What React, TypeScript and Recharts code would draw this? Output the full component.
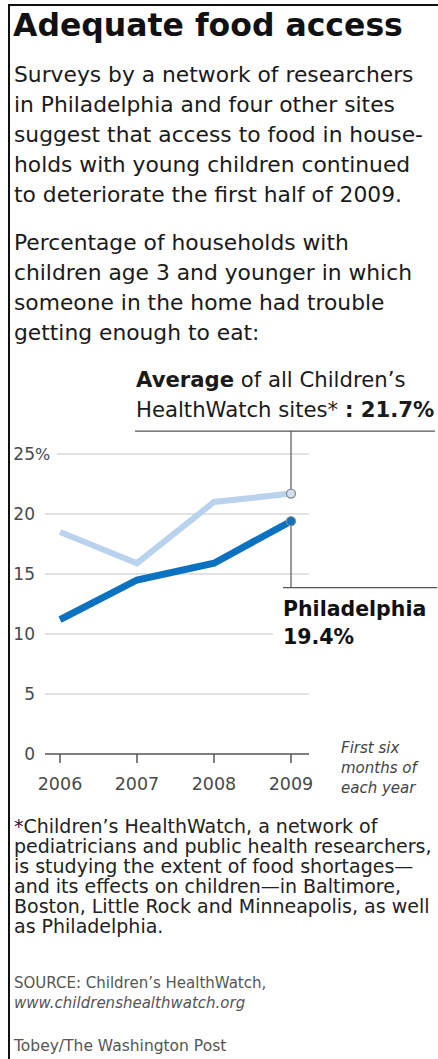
import React from 'react';
import { LineChart, Line, XAxis, YAxis, ReferenceLine } from 'recharts';

// ---- data ----
const years = [2006, 2007, 2008, 2009];
const averageValues = [18.5, 15.9, 21.0, 21.7];
const philadelphiaValues = [11.2, 14.5, 15.9, 19.4];
const yTicks = [0, 5, 10, 15, 20, 25];
const gridValues = [5, 10, 15, 20, 25];

const titleText = 'Adequate food access';
const introLines = [
  'Surveys by a network of researchers',
  'in Philadelphia and four other sites',
  'suggest that access to food in house-',
  'holds with young children continued',
  'to deteriorate the first half of 2009.',
];
const questionLines = [
  'Percentage of households with',
  'children age 3 and younger in which',
  'someone in the home had trouble',
  'getting enough to eat:',
];
const noteLines = [
  '*Children\u2019s HealthWatch, a network of',
  'pediatricians and public health researchers,',
  'is studying the extent of food shortages\u2014',
  'and its effects on children\u2014in Baltimore,',
  'Boston, Little Rock and Minneapolis, as well',
  'as Philadelphia.',
];
const periodLines = ['First six', 'months of', 'each year'];
const sourceLine = 'SOURCE: Children\u2019s HealthWatch,';
const urlLine = 'www.childrenshealthwatch.org';
const creditLine = 'Tobey/The Washington Post';

const data = years.map((year, i) => ({
  year,
  average: averageValues[i],
  philadelphia: philadelphiaValues[i],
}));

const last = years.length - 1;
const avgLast = averageValues[last];
const phlLast = philadelphiaValues[last];

// colours
const LIGHT = '#b9d2ee';
const LIGHT_DOT = '#cfe0f4';
const DARK = '#0b72c1';
const LEADER = '#555555';
const GRID = '#d9d9d9';
const SANS = '"DejaVu Sans", "Noto Sans", sans-serif';

type TL = {
  x: number;
  y: number; // centre of line
  size: number;
  lh?: number;
  weight?: number | string;
  italic?: boolean;
  color?: string;
  font?: string;
  spacing?: number;
  children: React.ReactNode;
};

const T = ({ x, y, size, lh = 24, weight = 400, italic, color = '#1a1a1a', font = SANS, spacing = 0, children }: TL) => (
  <div
    style={{
      position: 'absolute',
      left: x,
      top: y - lh / 2,
      height: lh,
      lineHeight: `${lh}px`,
      fontSize: size,
      fontWeight: weight as any,
      fontStyle: italic ? 'italic' : 'normal',
      color,
      fontFamily: font,
      whiteSpace: 'nowrap',
      letterSpacing: spacing,
    }}
  >
    {children}
  </div>
);

const YTick = (props: any) => {
  const { x, y, payload } = props;
  const v = payload.value;
  return (
    <g>
      <text x={x} y={y} dy={6} textAnchor="end" fill="#4a4a4a" fontSize={17} fontFamily={SANS}>
        {v}
      </text>
      {v === 25 && (
        <text x={x} y={y} dy={6} textAnchor="start" fill="#4a4a4a" fontSize={16} fontFamily={SANS}>
          %
        </text>
      )}
    </g>
  );
};

const XTick = (props: any) => {
  const { x, y, payload } = props;
  return (
    <text x={x} y={y} dy={25} textAnchor="middle" fill="#4a4a4a" fontSize={17.5} fontFamily={SANS}>
      {payload.value}
    </text>
  );
};

const makeDot = (fill: string) => (props: any) => {
  const { cx, cy, index } = props;
  if (index !== last) return <g key={`d-${index}`} />;
  return <circle key={`d-${index}`} cx={cx} cy={cy} r={4.5} fill={fill} stroke="#8a8a8a" strokeWidth={1.3} />;
};

export default function App() {
  return (
    <div
      style={{
        position: 'absolute',
        left: 0,
        top: 0,
        width: 438,
        height: 1059,
        overflow: 'hidden',
        background: '#fff',
        fontFamily: SANS,
      }}
    >
      {/* frame */}
      <div style={{ position: 'absolute', left: 8, top: 4, width: 430, height: 2, background: '#111' }} />
      <div style={{ position: 'absolute', left: 8, top: 4, width: 2, height: 1055, background: '#111' }} />

      <T x={13} y={25} size={31.5} lh={36} weight={700} color="#111">
        {titleText}
      </T>

      {introLines.map((t, i) => (
        <T key={`i${i}`} x={14} y={75 + i * 30} size={21.8} lh={30}>
          {t}
        </T>
      ))}
      {questionLines.map((t, i) => (
        <T key={`q${i}`} x={14} y={243 + i * 30} size={21.8} lh={30}>
          {t}
        </T>
      ))}

      {/* average label */}
      <T x={136} y={380} size={21.2} lh={30}>
        <b>Average</b> of all Children{'\u2019'}s
      </T>
      <T x={136} y={410} size={21.2} lh={30}>
        HealthWatch sites* <b>: {avgLast}%</b>
      </T>

      {/* philadelphia label */}
      <T x={283} y={609} size={20.5} lh={28} weight={700} color="#111">
        Philadelphia
      </T>
      <T x={283} y={637} size={20.5} lh={28} weight={700} color="#111">
        {phlLast}%
      </T>

      {periodLines.map((t, i) => (
        <T key={`p${i}`} x={341} y={748 + i * 20} size={15} lh={20} italic color="#444">
          {t}
        </T>
      ))}

      {noteLines.map((t, i) => (
        <T key={`n${i}`} x={14} y={826 + i * 20} size={19} lh={20} color="#222">
          {t}
        </T>
      ))}

      <T x={14} y={983} size={15} lh={20} color="#555">
        {sourceLine}
      </T>
      <T x={14} y={1003} size={15} lh={20} italic color="#555">
        {urlLine}
      </T>
      <T x={14} y={1046} size={15.5} lh={20} color="#555">
        {creditLine}
      </T>

      <div style={{ position: 'absolute', left: 0, top: 0 }}>
        <LineChart
          width={438}
          height={800}
          data={data}
          margin={{ top: 454, right: 129, bottom: 5, left: 8 }}
        >
          <XAxis
            dataKey="year"
            type="number"
            domain={[2005.805, 2009.234]}
            allowDataOverflow
            ticks={years}
            interval={0}
            height={41}
            axisLine={{ stroke: LEADER, strokeWidth: 1.5 }}
            tickLine={{ stroke: LEADER, strokeWidth: 1.5 }}
            tickSize={9}
            tickMargin={2}
            tick={<XTick />}
          />
          <YAxis
            type="number"
            domain={[0, 25]}
            ticks={yTicks}
            interval={0}
            width={37}
            axisLine={false}
            tickLine={false}
            tickSize={0}
            tickMargin={10}
            tick={<YTick />}
          />
          {gridValues.map((v) => (
            <ReferenceLine
              key={`g${v}`}
              ifOverflow="visible"
              segment={[
                { x: v === 25 ? 2005.961 : 2005.805, y: v },
                { x: v === 10 ? 2008.766 : 2009.234, y: v },
              ]}
              stroke={GRID}
              strokeWidth={1.5}
            />
          ))}
          {/* average leader */}
          <ReferenceLine
            ifOverflow="visible"
            segment={[
              { x: years[last], y: avgLast },
              { x: years[last], y: 26.91 },
            ]}
            stroke={LEADER}
            strokeWidth={1.2}
          />
          <ReferenceLine
            ifOverflow="visible"
            segment={[
              { x: 2006.974, y: 26.91 },
              { x: 2010.87, y: 26.91 },
            ]}
            stroke={LEADER}
            strokeWidth={1.2}
          />
          {/* philadelphia leader */}
          <ReferenceLine
            ifOverflow="visible"
            segment={[
              { x: years[last], y: phlLast },
              { x: years[last], y: 13.87 },
            ]}
            stroke={LEADER}
            strokeWidth={1.2}
          />
          <ReferenceLine
            ifOverflow="visible"
            segment={[
              { x: 2008.896, y: 13.87 },
              { x: 2010.9, y: 13.87 },
            ]}
            stroke={LEADER}
            strokeWidth={1.2}
          />
          <Line
            type="linear"
            dataKey="average"
            stroke={LIGHT}
            strokeWidth={6}
            strokeLinejoin="miter"
            dot={makeDot(LIGHT_DOT)}
            activeDot={false}
            isAnimationActive={false}
          />
          <Line
            type="linear"
            dataKey="philadelphia"
            stroke={DARK}
            strokeWidth={7}
            strokeLinejoin="miter"
            dot={makeDot(DARK)}
            activeDot={false}
            isAnimationActive={false}
          />
        </LineChart>
      </div>
    </div>
  );
}
